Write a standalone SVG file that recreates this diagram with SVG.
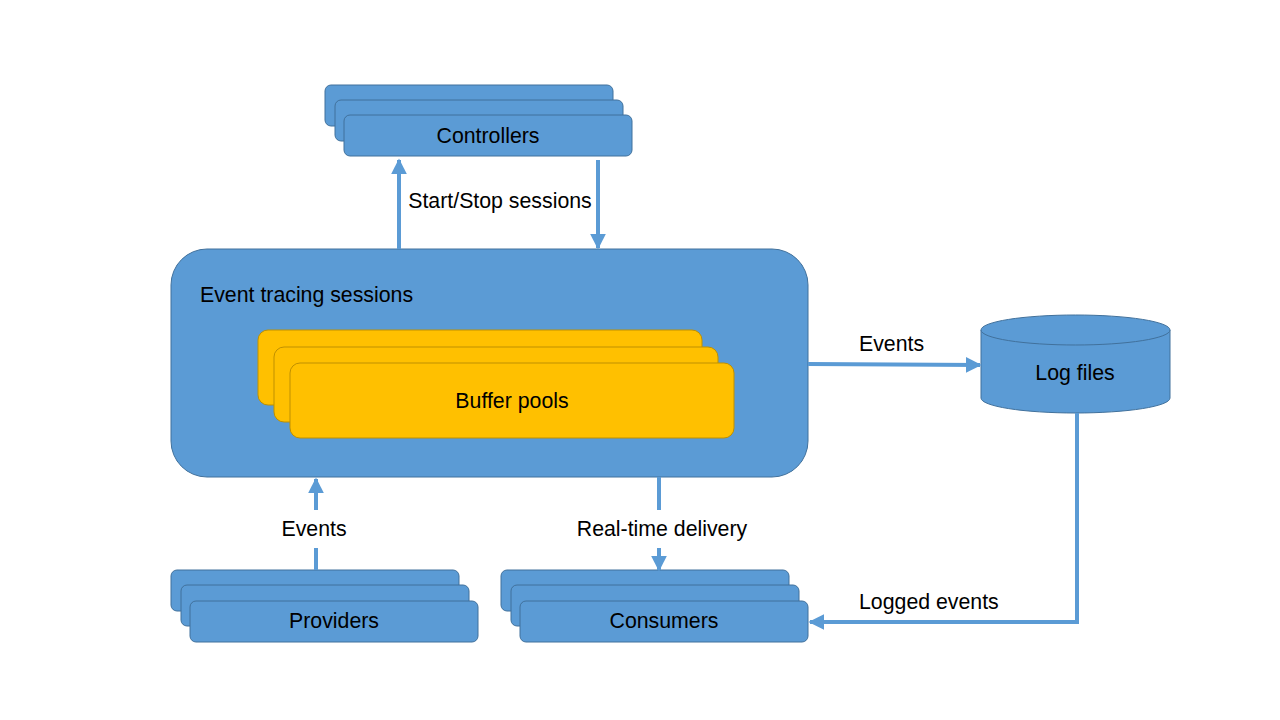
<svg xmlns="http://www.w3.org/2000/svg" width="1280" height="720" viewBox="0 0 1280 720">
<defs>
<style>
.blue{fill:#5B9BD5;stroke:#41719C;stroke-width:1}
.gold{fill:#FFC000;stroke:#BF9000;stroke-width:1}
.t{font-family:"Liberation Sans",Arial,sans-serif;font-size:21.3px;fill:#000}
.c{text-anchor:middle}
.ln{fill:none;stroke:#5B9BD5;stroke-width:4}
</style>
<marker id="ah" viewBox="0 0 10 10" refX="9" refY="5" markerWidth="4" markerHeight="4" markerUnits="strokeWidth" orient="auto">
<path d="M0,0 L10,5 L0,10 Z" fill="#5B9BD5"/>
</marker>
</defs>
<rect width="1280" height="720" fill="#fff"/>
<g id="controllers">
<rect class="blue" x="325" y="85" width="288" height="41" rx="6"/>
<rect class="blue" x="335" y="100" width="288" height="41" rx="6"/>
<rect class="blue" x="344" y="115" width="288" height="41" rx="6"/>
<text class="t c" x="488" y="143">Controllers</text>
</g>
<g id="sessions">
<rect class="blue" x="171" y="249" width="637" height="228" rx="36"/>
<text class="t" x="200" y="302">Event tracing sessions</text>
</g>
<g id="bufferpools">
<rect class="gold" x="258" y="330" width="444" height="75" rx="10"/>
<rect class="gold" x="274" y="347" width="444" height="75" rx="10"/>
<rect class="gold" x="290" y="363" width="444" height="75" rx="10"/>
<text class="t c" x="512" y="408">Buffer pools</text>
</g>
<g id="logfiles">
<path class="blue" d="M981,330 L981,398 A94.5,15 0 0 0 1170,398 L1170,330"/>
<ellipse class="blue" cx="1075.5" cy="330" rx="94.5" ry="15"/>
<text class="t c" x="1075" y="380">Log files</text>
</g>
<g id="providers">
<rect class="blue" x="171" y="570" width="288" height="41" rx="6"/>
<rect class="blue" x="181" y="585" width="288" height="41" rx="6"/>
<rect class="blue" x="190" y="601" width="288" height="41" rx="6"/>
<text class="t c" x="334" y="628">Providers</text>
</g>
<g id="consumers">
<rect class="blue" x="501" y="570" width="288" height="41" rx="6"/>
<rect class="blue" x="511" y="585" width="288" height="41" rx="6"/>
<rect class="blue" x="520" y="601" width="288" height="41" rx="6"/>
<text class="t c" x="664" y="628">Consumers</text>
</g>
<g id="connectors">
<line class="ln" x1="399" y1="249" x2="399" y2="160" marker-end="url(#ah)"/>
<line class="ln" x1="598" y1="160" x2="598" y2="248" marker-end="url(#ah)"/>
<line class="ln" x1="808" y1="364" x2="980" y2="365" marker-end="url(#ah)"/>
<polyline class="ln" points="1077,413 1077,622 810,622" marker-end="url(#ah)"/>
<line class="ln" x1="316" y1="570" x2="316" y2="548"/>
<line class="ln" x1="316" y1="510" x2="316" y2="479" marker-end="url(#ah)"/>
<line class="ln" x1="659" y1="477" x2="659" y2="510"/>
<line class="ln" x1="659" y1="548" x2="659" y2="570" marker-end="url(#ah)"/>
<text class="t c" x="500" y="208">Start/Stop sessions</text>
<text class="t" x="859" y="351">Events</text>
<text class="t" x="859" y="609">Logged events</text>
<text class="t c" x="314" y="536">Events</text>
<text class="t c" x="662" y="536">Real-time delivery</text>
</g>
</svg>
